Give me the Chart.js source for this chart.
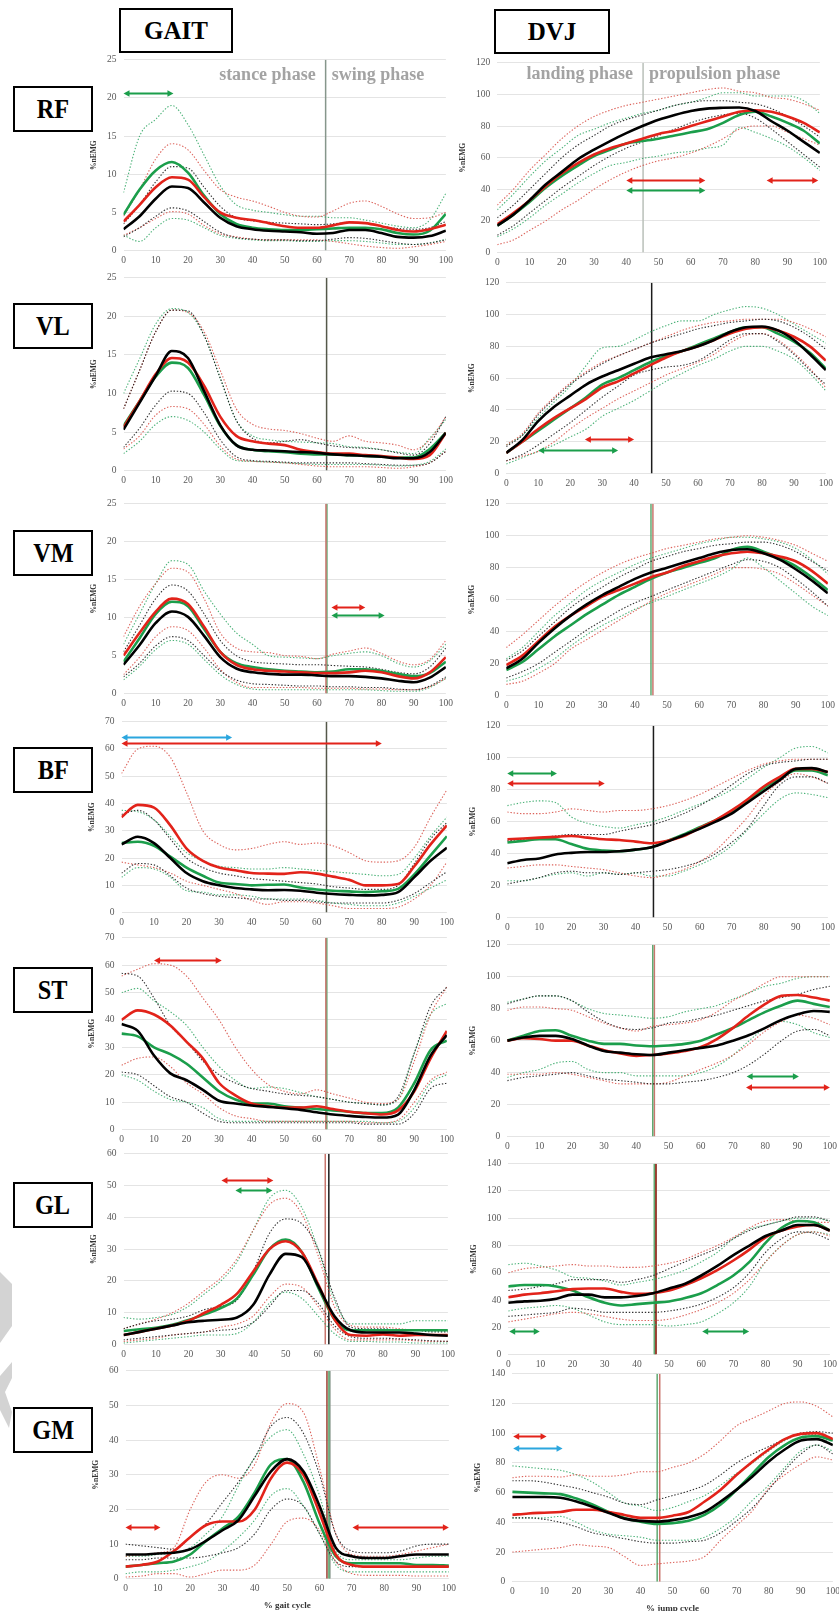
<!DOCTYPE html>
<html><head><meta charset="utf-8">
<script src="https://cdn.jsdelivr.net/npm/chart.js@4.4.1/dist/chart.umd.min.js"></script>
<style>
html,body{margin:0;padding:0;background:#fff;}
body{position:relative;width:839px;height:1611px;overflow:hidden;font-family:'Liberation Serif','Times New Roman',serif;}
canvas{position:absolute;}
.box{position:absolute;border:2px solid #000;box-sizing:border-box;display:flex;align-items:center;justify-content:center;font-weight:bold;color:#000;background:#fff;z-index:5;}
.box span{display:inline-block;}
.row span{font-size:27px;transform:scaleX(0.9);}
.head span{font-size:25px;}
.wm{position:absolute;left:0;top:0;width:40px;height:1611px;background:#d3d3d3;z-index:0;}
</style></head><body>
<script>
// ---------------- DATA ----------------
var pct = [0,5,10,15,20,25,30,35,40,45,50,55,60,65,70,75,80,85,90,95,100];
var muscles = ['RF','VL','VM','BF','ST','GL','GM'];
var gaitMax = [25,25,25,70,70,60,60];
var gaitStep = [5,5,5,10,10,10,10];
var jumpMax = [120,120,120,120,120,140,140];
var jumpStep = [20,20,20,20,20,20,20];
var gaitPhaseNames = ['stance phase','swing phase'];
var jumpPhaseNames = ['landing phase','propulsion phase'];
var gaitXTitle = '% gait cycle';
var jumpXTitle = '% jump cycle';

// GAIT RF
var gRF_k  = [2.8,4.5,6.8,8.4,8.2,6.3,4.3,3.2,2.8,2.6,2.5,2.4,2.2,2.3,2.7,2.7,2.3,1.8,1.7,1.9,2.6];
var gRF_r  = [3.8,6.0,8.3,9.6,9.3,7.0,5.0,4.3,4.0,3.6,3.2,3.0,3.0,3.3,3.7,3.6,3.2,2.7,2.5,2.8,3.4];
var gRF_g  = [4.7,8.0,10.5,11.6,10.2,7.2,4.8,3.5,3.0,2.8,2.7,2.7,2.8,2.9,3.0,3.0,2.8,2.3,2.1,2.6,4.8];
var gRF_kU = [3.5,6.0,9.0,11.0,10.8,8.3,5.8,4.3,3.9,3.7,3.6,3.5,3.4,3.5,3.7,3.6,3.2,2.9,2.8,3.0,3.8];
var gRF_kL = [1.8,3.0,4.5,5.6,5.2,3.8,2.4,1.7,1.5,1.4,1.4,1.3,1.3,1.5,1.7,1.6,1.3,1.0,0.8,1.0,1.4];
var gRF_rU = [4.5,8.0,12.0,14.0,13.2,10.5,8.0,7.0,6.5,5.8,5.0,4.5,4.4,5.2,6.2,6.5,5.8,4.8,4.2,4.3,5.0];
var gRF_rL = [2.0,3.0,4.2,5.1,4.8,3.3,2.2,1.8,1.5,1.4,1.4,1.4,1.4,1.2,0.9,0.6,0.4,0.3,0.5,0.8,1.2];
var gRF_gU = [7.6,15.0,17.2,19.0,16.5,12.5,8.5,6.0,5.3,5.0,4.7,4.5,4.5,4.3,4.3,4.0,3.6,3.2,3.0,4.0,7.5];
var gRF_gL = [2.0,1.2,3.0,4.2,4.0,3.0,2.0,1.6,1.4,1.3,1.3,1.2,1.2,1.3,1.3,1.2,1.0,0.8,0.8,1.0,1.5];
var gRF_phase = [[62.7,'n']];
var gRF_arrows = [[0,15.5,20.7,'g']];

// GAIT VL
var gVL_k  = [5.3,8.8,12.3,15.5,14.6,10.3,5.9,3.3,2.7,2.6,2.5,2.4,2.3,2.1,2.0,1.9,1.8,1.6,1.6,2.4,4.9];
var gVL_r  = [5.6,9.0,12.5,14.6,14.0,11.0,7.0,4.5,3.8,3.5,3.3,2.7,2.4,2.2,2.2,2.0,1.9,1.7,1.5,2.0,4.9];
var gVL_g  = [5.8,9.0,12.2,14.0,13.3,9.8,5.8,3.3,2.7,2.5,2.4,2.2,2.1,2.1,2.0,1.9,1.8,1.7,1.7,2.8,4.9];
var gVL_kU = [8.0,13.0,18.0,20.8,20.7,17.5,12.0,6.5,4.2,3.6,3.8,4.0,3.6,3.2,3.0,2.9,2.7,2.3,2.0,3.5,7.0];
var gVL_kL = [3.0,5.5,8.5,10.3,10.0,7.5,4.0,1.8,1.3,1.2,1.1,1.0,1.0,1.0,1.0,0.9,0.8,0.7,0.7,1.0,2.5];
var gVL_rU = [8.0,13.0,18.0,20.8,20.5,18.0,13.0,8.0,6.0,5.4,5.2,4.8,4.2,3.8,4.5,3.8,3.6,3.3,2.7,4.0,7.0];
var gVL_rL = [2.8,4.5,7.2,8.3,8.0,6.0,3.2,1.5,1.2,1.1,1.0,0.8,0.6,0.5,0.5,0.5,0.4,0.3,0.5,1.0,2.5];
var gVL_gU = [10.0,14.5,19.0,21.0,20.5,17.5,12.0,6.5,4.5,4.0,3.8,3.7,3.6,3.5,3.1,3.0,2.7,2.4,2.2,4.2,6.6];
var gVL_gL = [2.2,3.8,6.0,7.0,6.5,5.0,2.8,1.3,1.2,1.1,1.0,0.9,0.8,0.8,0.8,0.8,0.7,0.6,0.7,1.2,2.8];
var gVL_phase = [[63,'d']];
var gVL_arrows = [];

// GAIT VM
var gVM_k  = [3.8,6.4,9.3,10.8,10.1,7.6,4.8,3.3,2.8,2.6,2.5,2.5,2.4,2.3,2.3,2.2,2.0,1.7,1.5,2.1,3.5];
var gVM_r  = [5.0,8.0,10.8,12.5,11.8,8.8,5.5,3.8,3.2,3.0,2.9,2.8,2.7,2.7,2.8,3.0,2.8,2.3,2.0,2.8,4.8];
var gVM_g  = [4.2,7.3,10.5,12.1,11.5,8.5,5.5,4.0,3.5,3.2,3.0,2.9,2.8,2.9,3.2,3.2,3.0,2.6,2.3,2.7,4.2];
var gVM_kU = [5.5,9.0,12.5,14.3,13.5,10.5,7.0,5.0,4.2,4.0,3.9,3.8,3.8,3.7,3.6,3.5,3.2,2.8,2.6,3.5,6.0];
var gVM_kL = [2.2,4.0,6.3,7.5,7.0,5.0,3.0,1.8,1.3,1.2,1.1,1.0,1.0,0.9,0.9,0.8,0.8,0.6,0.5,1.0,2.2];
var gVM_rU = [7.5,11.5,14.5,16.5,16.0,12.5,8.0,6.0,5.5,5.4,5.0,4.9,4.6,5.2,5.6,6.0,5.3,4.3,3.8,4.5,7.0];
var gVM_rL = [2.5,4.8,7.5,8.8,8.3,6.0,3.2,1.5,0.8,0.8,0.8,0.8,0.7,0.7,0.7,0.6,0.6,0.5,0.5,0.9,2.0];
var gVM_gU = [6.5,10.5,14.5,17.5,17.0,13.5,10.5,8.0,6.5,5.0,4.8,4.7,4.6,5.0,5.3,5.5,5.0,4.0,3.5,4.3,6.5];
var gVM_gL = [1.8,3.6,5.8,7.0,6.5,4.5,2.5,1.2,0.6,0.5,0.5,0.5,0.5,0.5,0.5,0.5,0.4,0.3,0.3,0.8,2.0];
var gVM_phase = [[62.8,'r'],[63.1,'g']];
var gVM_arrows = [[64.5,75,11.4,'r'],[64.5,81,10.4,'g']];

// GAIT BF
var gBF_k  = [25,27.8,25.5,20,14.5,11.5,10,9,8.5,8.2,8.3,8,7.3,6.8,6.5,6.3,6.5,7.5,13,19,23.8];
var gBF_r  = [35,39.5,38.5,32,23.5,19,16.5,15.5,14.5,14.3,14.2,14.8,14.3,13.2,12,10,10,10.5,17,25,32];
var gBF_g  = [25.5,26,24.5,20.5,16.5,13.5,11,10.5,10,10.2,10.3,9.2,8.5,8,7.8,7.5,7.8,8.7,14,21,28];
var gBF_kU = [36,37.5,34,27,20,16.5,14.5,13.5,12.5,12,11.5,11,10.5,9.5,9,8.5,8.5,10,18,27,33];
var gBF_kL = [14.5,18,17.5,13.5,9,7,6,5.5,5,5,4.5,4.5,4,3.5,3.5,3.5,3.5,4.5,7,11,15];
var gBF_rU = [51,60,61,57,44,30,25,23,23.5,25,26,25,25.5,24.5,22,19,18.5,19,24,35,45];
var gBF_rL = [18.5,17.5,16.5,14.5,11.5,10,8.5,7,4.5,3,4,4,3.5,2.5,1.5,1.5,1.5,2,5,10,18.5];
var gBF_gU = [37.5,37,34,28,22,19,17,16.5,16,16,16.5,16,15.5,15,14.5,14,13.5,14,20,28,35];
var gBF_gL = [13,16.5,16,13,8,7.5,6.5,6.5,6,5,5,5,4.5,3.5,3,2.5,2.5,3.5,6,9,12];
var gBF_phase = [[63,'d']];
var gBF_arrows = [[0,34,64.3,'b'],[0,80,62.1,'r']];

// GAIT ST
var gST_k  = [38.5,36,27,20.5,18,14.5,10.5,9.5,8.8,8.3,7.8,7.2,6.3,5.5,5,4.6,4.4,5.5,14.5,27,34.5];
var gST_r  = [40,43.5,42,38,32,26,17,12.5,9.5,8.5,8,8,8.5,7.5,6.5,6,5.5,7,14,26,36];
var gST_g  = [35,34,30,27.5,24,19,14,11,9.5,9.5,8.5,8,7.5,7,6.5,6,6,8,17,29,32.5];
var gST_kU = [57,56,48,38,32,25,20,17,15,14,13,12.5,12,11,10,9.5,9,12,28,45,52];
var gST_kL = [21,20,16,12,10,6,3,2.5,2.5,2.5,2.5,2.5,2.5,2.5,2.5,2,2,2,6,15,17];
var gST_rU = [56,58.5,60.5,60,56,48,40,30,22,16.5,14,13,14.5,13,11.5,10,9.5,11,25,42,52];
var gST_rL = [23.5,26,26.5,23,17,13,8,5,4,3,3,3,3,3,3,2.5,2.5,3.5,10,18,21];
var gST_gU = [50,51.5,47,43,38,30,23,18,15,15.5,15,13.5,12,11,10,9.5,9,11,28,42,46];
var gST_gL = [20,18,14,11,10,8,4,3,3,3,3,3,3,3,3,3,2.5,3,8,17,20];
var gST_phase = [[62.8,'r'],[63.1,'g']];
var gST_arrows = [[10,30.8,61.8,'r']];

// GAIT GL
var gGL_k  = [3,4,5,6,7,7.5,7.8,8.5,12.5,22,28.5,27.5,18.5,9,4.5,3.8,3.8,3.8,3.5,3,2.8];
var gGL_r  = [3,4,5,6,7.5,10,12.5,16,23,30,32.5,29,19,8,3,2.8,3.2,2.8,3,3,3];
var gGL_g  = [4.3,4.8,5.3,6.2,7.7,9.5,11.5,14.5,22,30,33,29,18,8,4.5,4.5,4.5,4.5,4.5,4.5,4.5];
var gGL_kU = [5,6.5,7.5,8,9,11,12,14,23,35,39.5,38,30,15,5.5,5,5,4.5,4.5,4,4];
var gGL_kL = [1.5,2,2.5,3,3.5,4,4.5,5,7,12,17,17,13,6,2.5,2,2,1.8,1.5,1.2,1];
var gGL_rU = [5,6.5,8,10,13,17,21,27,36,44,46,41,28,12,6,5.5,5.5,5,4.5,4.5,4.5];
var gGL_rL = [1,1.5,2,3,3.5,4,5.5,6.5,9,15,19,18,12,5,1.5,1.5,1.5,1.5,1.2,1,1];
var gGL_gU = [8.5,8,8.5,9.5,12,16,20,26,36,46,48.5,43,30,14,6.5,6.5,6.5,6.5,7.5,7.5,7.5];
var gGL_gL = [0.5,1,1.5,2,2.5,3,3,3.5,7,13,16.5,14.5,9,3.5,1,1,0.8,0.8,0.5,0.5,0.5];
var gGL_phase = [[62.2,'r'],[63.3,'k']];
var gGL_arrows = [[30.2,46.2,51.6,'r'],[34.5,45.9,48.5,'g']];

// GAIT GM
var gGM_k  = [7,7,7.3,7.5,8.5,11,14,17,24,31,34.5,31,21,9,6.5,6,6,6.5,7,7,7];
var gGM_r  = [3.5,4,5,8,12,15.5,16.5,16.5,20,29,33.5,30,19,7,4,3.5,3.5,3.5,3.5,3.5,3.5];
var gGM_g  = [3.5,4,4.5,5,7,11,14.5,18,25,33,34.5,28,16,6.5,4.5,4.5,4.5,4.5,4,4,3.8];
var gGM_kU = [10,9.5,9,8.5,12,16,22,28,35,44,46.5,42,30,13,8,7.5,7.5,8,9.5,10,10];
var gGM_kL = [5.5,5.5,6,6,6,6.5,7.5,9,13,20,23,21,13,5,3.5,3.5,3.5,3.5,3.5,3.5,3.5];
var gGM_rU = [6.5,7,7.5,9,20,28,30,29,33,45,50.5,48,32,13,7,6.5,6.5,7,8,9,10];
var gGM_rL = [0.5,0.8,1.5,1.5,0.5,1.5,2.5,2.5,4,10,16.5,17.5,14,5,1.5,1,1,1,0.8,0.8,0.8];
var gGM_gU = [6.5,6.5,7,7.5,9,13,18,27,35,41,43,36,24,8,5.5,5.5,5.5,5.5,6,6.5,6.5];
var gGM_gL = [1.5,2,2,2.5,3.5,5,8,12,17,24,26,21,13,4,2,2,2,2,2,2,2];
var gGM_phase = [[62.3,'m'],[62.9,'g'],[63.2,'n']];
var gGM_arrows = [[0,10.8,15,'r'],[70.2,100,15,'r']];

// JUMP RF
var jRF_k  = [17,24,33,43,51,59,65,70.5,75.5,80,84,87,89.5,91,91.5,91.7,89.5,83,77,70,63];
var jRF_r  = [18,25,33,42,50,56.5,62,66,69,72,75,77,80,83,86,89,90,89,86,82,76];
var jRF_g  = [17,24,32,41,48.5,55,61,65,69,70.5,72,74,76,78,82,87,89,86,82,77,69];
var jRF_kU = [22,30,40,50,60,68,74,80,84,87,90,93,95,96,96,95,94,91,86,80,73];
var jRF_kL = [11,17,25,33,41,48,55,61,66,70,74,78,82,85,87,88,85,78,70,62,54];
var jRF_rU = [30,40,52,62,72,80,86,90,93,95,97,99,101,103,104,102,101,98,97,94,90];
var jRF_rL = [5,8,14,20,27,33,40,46,51,55,58,60,63,67,72,78,80,80,76,72,68];
var jRF_gU = [27,37,48,58,66,74,78,82,85,88,90,93,95,98,101,101,99,99,99,96,88];
var jRF_gL = [10,15,22,30,37,44,50,55,57,59.5,61,63,64,66,68,79,76,72,67,60,52];
var jRF_phase = [[45.2,'l']];
var jRF_arrows = [[40,64.5,46,'r'],[40,64.5,39.5,'g'],[83.5,99.5,46,'r']];

// JUMP VL
var jVL_k  = [13,21,33,42,49,56,61,65,69,73,75,77,80,84,89,92,92.5,90,84,75,65];
var jVL_r  = [13,20,28,35,41,47,54,58,63,68,73,77,80,84,88,91,92,90,86,80,71];
var jVL_g  = [13,20,27,34,41,48,56,60,65,70,74,77,81,85,89,92,92,88,83,76,66];
var jVL_kU = [17,24,37,47,56,63,69,74,78,82,85,88,91,93,95,96,97,96,92,86,78];
var jVL_kL = [8,12,18,25,32,40,48,55,62,65,67,68,71,77,84,88,88,83,75,65,56];
var jVL_rU = [18,25,38,48,57,64,70,74,78,82,86,90,93,95,96,97,97,97,95,91,86];
var jVL_rL = [8,11,14,20,28,35,41,47,52,57,62,66,70,75,82,87,88,84,76,66,54];
var jVL_gU = [18,24,35,45,55,68,79,80,84,89,93,96,96,100,103,105,104,100,94,88,82];
var jVL_gL = [6,10,14,18,23,28,36,41,46,52,58,63,68,72,77,80,80,77,72,63,52];
var jVL_phase = [[45.5,'k']];
var jVL_arrows = [[24.6,40,21.5,'r'],[10,35,14.6,'g']];

// JUMP VM
var jVM_k  = [17,23,33,42,50,57,63,68,73,77,80,83,86,89,91,91.5,89,85,79,72,64];
var jVM_r  = [19,25,34,43,50,56,62,66,70,74,77,81,84,87,89,90,89,87,84,78,70];
var jVM_g  = [16,21,29,37,44,51,57,63,68,73,77,80,83,86,91,93,90,86,81,74,66];
var jVM_kU = [22,28,37,46,55,62,68,74,79,84,87,90,92,94,95,96,96,94,90,84,78];
var jVM_kL = [11,15,20,27,34,41,47,53,58,62,66,70,74,78,82,85,84,80,73,65,56];
var jVM_rU = [30,38,47,56,64,71,77,82,86,89,92,94,96,98,99,100,99,97,94,89,84];
var jVM_rL = [7,9,14,20,29,35,41,47,53,59,64,68,72,76,80,80,79,76,70,63,56];
var jVM_gU = [23,30,40,50,58,66,72,77,82,86,89,92,95,97,99,99,98,96,92,85,76];
var jVM_gL = [9,12,17,23,31,38,44,49,54,58,62,66,70,74,79,86,80,72,64,56,50];
var jVM_phase = [[45,'g'],[45.6,'r']];
var jVM_arrows = [];

// JUMP BF
var jBF_k  = [34,36,37,39.5,40.5,41,41,41.5,42.5,44,47.5,51.5,55.5,60,65,72,79,86,93,93.5,91];
var jBF_r  = [49,49.5,50,50.5,51,50,49,48.5,47.5,46.5,48,51,56,61,67,74,82,88,93,93,91];
var jBF_g  = [47,48,49,49,46,43,42,41.5,42.5,44,48,52,56.5,61,66,73,81,87,92,92,89];
var jBF_kU = [48,49,50,51,52,52,52,54,56,58,61,65,70,76,83,90,95,97,98,99,99];
var jBF_kL = [21,23,25,28,29,28,28,27,28,29,30,32,35,40,47,56,70,83,88,88,84];
var jBF_rU = [66,65,65,66,68,67,66,67,67,68,70,73,77,82,87,92,96,98,99,99,99];
var jBF_rL = [31,32,33,33,32,31,30,28,26,25,27,30,35,42,52,63,76,85,90,88,84];
var jBF_gU = [70,72,73,72,63,59,57,56,58,60,63,67,71,75,80,87,94,100,106,107,103];
var jBF_gL = [23,23,25,27,28,26,28,27,28,26,26,29,33,38,45,55,65,74,78,77,75];
var jBF_phase = [[45.6,'k']];
var jBF_arrows = [[0,15.5,90.4,'g'],[0,30.4,84.2,'r']];

// JUMP ST
var jST_k  = [60,62,63,63,61,57,53.5,52.5,51.5,51,52.5,54,55.5,57,60,63.5,68,73,76.5,78.5,78];
var jST_r  = [60,61.5,61,60,60,57,54,52,50.5,51,52,53.5,56,61,68,76,83,88,88.5,87,85];
var jST_g  = [60,63,66,66.5,63,60,58,58,57,56.5,57,58,60,64,68,73,78,82,85,83,81];
var jST_kU = [83,86,88,88,85,78,72,68,67,68,71,72,74,76,79,82,85,87,89,92,94];
var jST_kL = [35,37,38,39,40,38,36,35,34,33,33,34,35,37,40,45,52,60,66,67,63];
var jST_rU = [79,81,81,80,79,75,71,68,66,69,70,71,73,78,85,90,96,100,100,100,100];
var jST_rL = [39,39,39,40,39,37,35,33,33,33,34,38,42,46,51,58,66,72,76,74,70];
var jST_gU = [84,86,88,88,85,80,77,76,75,74,75,78,80,82,86,90,94,96,99,100,100];
var jST_gL = [37,40,42,46,47,42,40,40,38,38,38,38,40,44,51,60,68,72,70,65,62];
var jST_phase = [[45.1,'g'],[45.6,'r']];
var jST_arrows = [[74.2,90.4,37.6,'g'],[74,100,31.3,'r']];

// JUMP GL
var jGL_k  = [38,39,39.5,41,44,44,42,42,43,45,48.5,52,58,65,73,80,87,91,95,95,91];
var jGL_r  = [42,44,45,46.5,48,48.5,48.5,46,44.5,45,47,51,56,62,69,77,86,91,94,95,91];
var jGL_g  = [50,51,51,50,47,42,38,36,37,38,39,41.5,45,51,58,68,82,93,98,97,91];
var jGL_kU = [47,48,50,52,55,55,55,53,55,58,63,68,73,78,85,91,95,98,101,101,98];
var jGL_kL = [28,29,30,31,34,33,31,31,31,31,32,34,37,42,49,60,75,85,90,89,84];
var jGL_rU = [60,63,64,65,66,65,65,64,64,65,67,70,75,80,86,93,98,99,98,97,97];
var jGL_rL = [24,26,28,30,31,30,28,26,25,25,26,29,33,38,45,55,68,80,88,90,87];
var jGL_gU = [66,67,65,62,57,56,54,51,53,55,58,62,68,75,85,92,95,98,100,100,98];
var jGL_gL = [32,34,35,36,34,29,24,22,22,22,21,22,24,30,38,50,68,80,88,90,88];
var jGL_phase = [[45.4,'g'],[45.7,'m'],[46.0,'m']];
var jGL_arrows = [[0.3,9.8,17.6,'g'],[60.3,74.9,17.6,'g']];

// JUMP GM
var jGM_k  = [57,57,57,56.5,54,50.5,46.5,42.5,41,40.5,41.5,43.5,47,54,62,71,81,89,95,96,92];
var jGM_r  = [45,46,46.5,47,48.5,48.5,47,45,43,43,44.5,47,54,62,72,81,89,96,99.5,100,96];
var jGM_g  = [60.5,60,59.5,59,56,52,47,43,40.5,39,39.5,41,45,52,62,73,84,92,97,98,95];
var jGM_kU = [68,68,67,65,63,60,57,53,52,55,58,61,65,72,80,86,91,96,100,101,100];
var jGM_kL = [43,43,42,40,37,33,31,29,27,26,26,27,28,33,41,50,62,75,86,92,86];
var jGM_rU = [70,71,71,70.5,72,71,71,72,74,74,77,80,86,95,105,110,115,120,121,118,111];
var jGM_rL = [20,21,22,23,25,24,23,17,11,12,13,14,17,28,38,48,63,72,79,84,82];
var jGM_gU = [78,77,76,75,72,67,60,53,51,48,50,54,58,65,73,80,88,95,99,99,92];
var jGM_gL = [43,43,43,44,40,35,32,31,30,28,28,28,30,36,44,55,65,77,88,92,88];
var jGM_phase = [[45.2,'g'],[46,'r']];
var jGM_arrows = [[0.3,10.7,98.2,'r'],[0.3,15.7,89.9,'b']];

// text-label heights (data units)
var gaitPhaseLabelY = 22.9;
var jumpPhaseLabelY = 112.4;
</script>
<script>
// ---------------- STYLE / LAYOUT ----------------
const FONT = "'Liberation Serif','Times New Roman',serif";
const MEAN_COL = {k:'#000000', r:'#e2231a', g:'#1b9e4b'};
const SD_COL = {k:'rgba(25,25,25,0.9)', r:'rgba(214,72,62,0.85)', g:'rgba(44,165,96,0.85)'};
const ARROW_COL = {r:'#e2231a', g:'#1b9e4b', b:'#2ba6de'};
const VLINE_COL = {k:'#1c1c1c', r:'#c9766e', g:'#5faa72', n:'#86968b', d:'#55584a', l:'#b9c0b9', m:'#9a3e30'};
// plot area in page px: x(0), x(100), y(top), y(0)
const LAYOUT = {
  gRF:[123,445,60,251], gVL:[123,445,278,471], gVM:[123,445,504,694], gBF:[121,446,722,913],
  gST:[121,446,938,1130], gGL:[123,447,1154,1345], gGM:[125,448,1371,1579],
  jRF:[497,820,63,253], jVL:[506,826,283,474], jVM:[506,828,504,696], jBF:[507,828,726,918],
  jST:[507,830,945,1137], jGL:[508,830,1164,1355], jGM:[512,833,1374,1582]
};

function pts(arr){ return arr.map((y,i)=>({x:pct[i], y:y})); }

function drawArrow(ctx, x1, x2, y, color){
  const h = 6, w = 3.2;
  ctx.save();
  ctx.strokeStyle = color; ctx.fillStyle = color; ctx.lineWidth = 2;
  ctx.beginPath(); ctx.moveTo(x1 + h - 1, y); ctx.lineTo(x2 - h + 1, y); ctx.stroke();
  ctx.beginPath(); ctx.moveTo(x1, y); ctx.lineTo(x1 + h, y - w); ctx.lineTo(x1 + h, y + w); ctx.closePath(); ctx.fill();
  ctx.beginPath(); ctx.moveTo(x2, y); ctx.lineTo(x2 - h, y - w); ctx.lineTo(x2 - h, y + w); ctx.closePath(); ctx.fill();
  ctx.restore();
}

function makeConfig(id, max, step, xTitle, names, labelY){
  const get = s => window[id + '_' + s];
  const datasets = [];
  const line = (arr, color, w, dash) => ({
    data: pts(arr), borderColor: color, borderWidth: w, borderDash: dash || [],
    pointRadius: 0, fill: false, tension: 0.4, cubicInterpolationMode: 'monotone'
  });
  ['k','r','g'].forEach(c => datasets.push(line(get(c), MEAN_COL[c], 2.6)));
  ['k','r','g'].forEach(c => {
    datasets.push(line(get(c + 'U'), SD_COL[c], 1.1, [1.4, 1.8]));
    datasets.push(line(get(c + 'L'), SD_COL[c], 1.1, [1.4, 1.8]));
  });
  get('phase').forEach(p => datasets.push({
    data: [{x: p[0], y: 0}, {x: p[0], y: max}], borderColor: VLINE_COL[p[1]],
    borderWidth: 1.5, pointRadius: 0, tension: 0
  }));
  const arrows = get('arrows');
  const phase0 = get('phase')[0][0];
  const deco = {
    id: 'deco',
    afterDatasetsDraw(chart){
      const ctx = chart.ctx, xs = chart.scales.x, ys = chart.scales.y;
      arrows.forEach(a => drawArrow(ctx, xs.getPixelForValue(a[0]), xs.getPixelForValue(a[1]), Math.round(ys.getPixelForValue(a[2])) + 0.5, ARROW_COL[a[3]]));
      if (names){
        const bx = xs.getPixelForValue(phase0), y = ys.getPixelForValue(labelY);
        ctx.save();
        ctx.font = 'bold 18px ' + FONT; ctx.fillStyle = '#a3a3a3'; ctx.textBaseline = 'middle';
        ctx.textAlign = 'right'; ctx.fillText(names[0], bx - 10, y);
        ctx.textAlign = 'left'; ctx.fillText(names[1], bx + 6, y);
        ctx.restore();
      }
    }
  };
  return {
    type: 'line',
    data: {datasets},
    options: {
      responsive: false, animation: false, events: [],
      layout: {padding: 0},
      plugins: {legend: {display: false}, tooltip: {enabled: false}},
      scales: {
        x: {type: 'linear', min: 0, max: 100,
            ticks: {stepSize: 10, autoSkip: false, maxRotation: 0, font: {family: FONT, size: 9.5}, color: '#595959', padding: 4},
            grid: {display: false, drawTicks: false}, border: {display: false},
            title: {display: !!xTitle, text: xTitle || '', font: {family: FONT, size: 9, weight: 'bold'}, color: '#333', padding: {top: 2, bottom: 0}}},
        y: {type: 'linear', min: 0, max: max,
            ticks: {stepSize: step, font: {family: FONT, size: 9.5}, color: '#595959', padding: 7},
            grid: {color: '#e4e4e4', lineWidth: 1, drawTicks: false}, border: {display: false},
            title: {display: true, text: '%nEMG', font: {family: FONT, size: 7.5, weight: 'bold'}, color: '#333', padding: {top: 0, bottom: 1}}}
      }
    },
    plugins: [deco]
  };
}

function place(id, max, step, xTitle, names, labelY){
  const [x0, x100, yt, yb] = LAYOUT[id];
  const cv = document.createElement('canvas');
  document.body.appendChild(cv);
  const size = (w, h) => { cv.width = w; cv.height = h; cv.style.width = w + 'px'; cv.style.height = h + 'px'; };
  size(600, 400);
  let ch = new Chart(cv, makeConfig(id, max, step, xTitle, names, labelY));
  const a = ch.chartArea;
  const pl = a.left, pt = a.top, pr = 600 - a.right, pb = 400 - a.bottom;
  ch.destroy();
  size(Math.round(pl + (x100 - x0) + pr), Math.round(pt + (yb - yt) + pb));
  ch = new Chart(cv, makeConfig(id, max, step, xTitle, names, labelY));
  cv.style.left = Math.round(x0 - ch.chartArea.left) + 'px';
  cv.style.top = Math.round(yt - ch.chartArea.top) + 'px';
}

function boxes(){
  const mk = (cls, txt, l, t, w, h) => {
    const d = document.createElement('div'); d.className = 'box ' + cls;
    d.style.left = l + 'px'; d.style.top = t + 'px'; d.style.width = w + 'px'; d.style.height = h + 'px';
    const s = document.createElement('span'); s.textContent = txt; d.appendChild(s);
    document.body.appendChild(d);
  };
  mk('head', 'GAIT', 119, 8, 114, 45);
  mk('head', 'DVJ', 494, 9, 116, 45);
  const rowTops = [86, 303, 530, 747, 967, 1182, 1407];
  muscles.forEach((m, i) => mk('row', m, 13, rowTops[i], 80, 46));
  // faint watermark fragments at the left edge
  const w1 = document.createElement('div'); w1.className = 'wm';
  w1.style.clipPath = 'polygon(0px 1272px, 12px 1284px, 12px 1326px, 0px 1343px)';
  document.body.appendChild(w1);
  const w2 = document.createElement('div'); w2.className = 'wm';
  w2.style.clipPath = 'polygon(12px 1362px, 12px 1378px, 5px 1392px, 12px 1412px, 9px 1428px, 0px 1410px, 0px 1376px)';
  document.body.appendChild(w2);
}

muscles.forEach((m, i) => {
  place('g' + m, gaitMax[i], gaitStep[i], m === 'GM' ? gaitXTitle : null, m === 'RF' ? gaitPhaseNames : null, gaitPhaseLabelY);
  place('j' + m, jumpMax[i], jumpStep[i], m === 'GM' ? jumpXTitle : null, m === 'RF' ? jumpPhaseNames : null, jumpPhaseLabelY);
});
boxes();
</script>
</body></html>
